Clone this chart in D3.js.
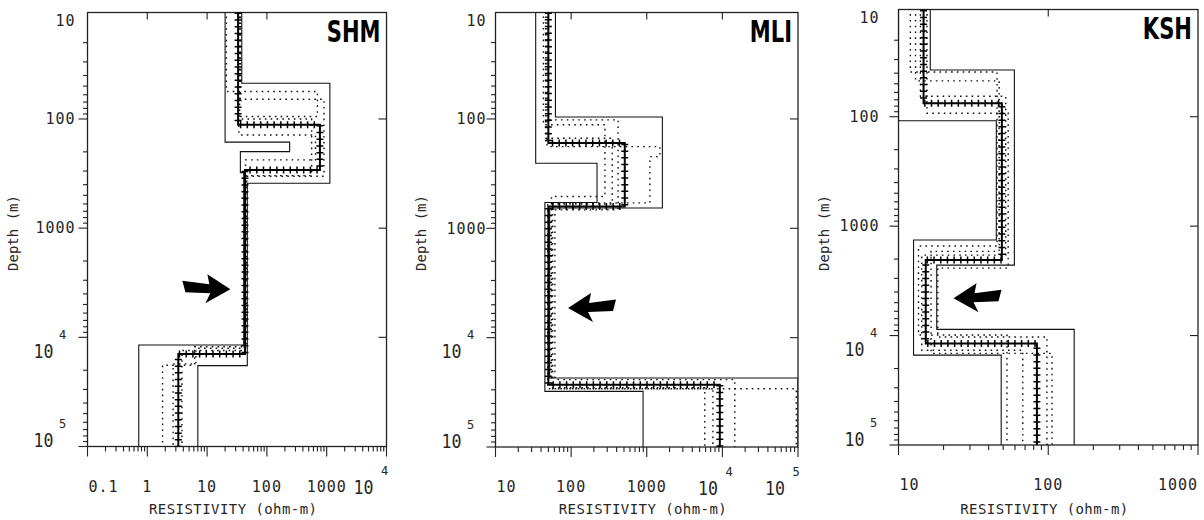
<!DOCTYPE html>
<html>
<head>
<meta charset="utf-8">
<script src="https://cdn.jsdelivr.net/npm/d3@7/dist/d3.min.js"></script>
<style>
  body { margin: 0; background: #fff; }
  svg text { fill: #262626; }
  .lbl { font-family: "DejaVu Sans Mono", monospace; font-size: 15px; letter-spacing: 1px; }
  .big { font-family: "DejaVu Sans Mono", monospace; font-size: 19px; }
  .sup { font-family: "DejaVu Sans Mono", monospace; font-size: 12px; }
  .axt { font-family: "DejaVu Sans Mono", monospace; font-size: 14px; }
  .ttl { font-family: "DejaVu Sans", sans-serif; font-size: 31px; font-weight: bold; fill: #000; }
</style>
</head>
<body>
<div id="chart"></div>
<script>
var W = 1204, H = 520;

var stations = ["SHM", "MLI", "KSH"];

// tick values
var shmResTicks = [0.1, 1, 10, 100, 1000, 10000];
var mliResTicks = [10, 100, 1000, 10000, 100000];
var kshResTicks = [10, 100, 1000];
var depthTicks = [10, 100, 1000, 10000, 100000];

// layered models: resistivity of each layer (ohm-m), depth of each boundary (m)
// SHM
var shmLowRes = [20, 240, 36, 41, 0.72];
var shmLowDepth = [163, 199, 310, 11750];
var shmHighRes = [38, 1130, 47, 7.0];
var shmHighDepth = [47, 388, 18150];
var shmBestRes = [33, 770, 43, 3.3];
var shmBestDepth = [113, 293, 14200];
var shmDot1Res = [21, 700, 34, 650, 44, 6.2, 1.8];
var shmDot1Depth = [56, 95, 140, 237, 12200, 18000];
var shmDot2Res = [36, 900, 46, 6.5, 2.7];
var shmDot2Depth = [66, 335, 12600, 17500];
var shmDot3Res = [35, 560, 42, 3.8];
var shmDot3Depth = [100, 330, 13200];

// MLI
var mliLowRes = [34, 220, 45, 894];
var mliLowDepth = [254, 581, 31000];
var mliHighRes = [62, 1610, 52, 100000];
var mliHighDepth = [96, 653, 23400];
var mliBestRes = [50, 512, 50, 9250];
var mliBestDepth = [166, 632, 27000];
var mliDot1Res = [43, 280, 55, 5850];
var mliDot1Depth = [113, 512, 28700];
var mliDot2Res = [50, 418, 61, 14600];
var mliDot2Depth = [102, 678, 24200];
var mliDot3Res = [48, 1490, 1100, 57, 7500];
var mliDot3Depth = [179, 221, 585, 29300];
var mliDot4Res = [46, 350, 49, 95000];
var mliDot4Depth = [150, 600, 29300];

// KSH
var kshLowRes = [10, 45, 12.6, 48.5];
var kshLowDepth = [109, 1340, 15100];
var kshHighRes = [16.3, 59.4, 18, 149];
var kshHighDepth = [37.4, 2270, 8770];
var kshBestRes = [14.7, 49, 15.2, 84];
var kshBestDepth = [75.5, 2040, 11800];
var kshDot1Res = [12, 45.5, 13.6, 53];
var kshDot1Depth = [39, 1520, 9890];
var kshDot2Res = [15.5, 54, 18.3, 98];
var kshDot2Depth = [93, 2420, 10300];
var kshDot3Res = [14, 52, 14.3, 67.6];
var kshDot3Depth = [65, 1840, 13600];
var kshDot4Res = [13, 47, 16.5, 106];
var kshDot4Depth = [47, 1700, 14550];

// arrow tips: resistivity, depth, direction (1 = points right)
var shmArrow = [24.5, 3630, 1];
var mliArrow = [91, 5370, -1];
var kshArrow = [23.3, 4570, -1];

// panel frames
var layout = [
  {left: 87.5, right: 386.5, top: 12.5, bottom: 446.5, y10: 9.8, gap: 12},
  {left: 495.5, right: 798, top: 12.5, bottom: 447, y10: 9.6, gap: 9},
  {left: 898.5, right: 1198, top: 9.5, bottom: 445, y10: 7.3, gap: 19}
];

var panels = [
  {name: stations[0], ticks: shmResTicks, arrow: shmArrow, box: layout[0], models: [
    [shmDot1Res, shmDot1Depth, "dot"], [shmDot2Res, shmDot2Depth, "dot"], [shmDot3Res, shmDot3Depth, "dot"],
    [shmLowRes, shmLowDepth, "solid"], [shmHighRes, shmHighDepth, "solid"], [shmBestRes, shmBestDepth, "best"]]},
  {name: stations[1], ticks: mliResTicks, arrow: mliArrow, box: layout[1], models: [
    [mliDot1Res, mliDot1Depth, "dot"], [mliDot2Res, mliDot2Depth, "dot"], [mliDot3Res, mliDot3Depth, "dot"],
    [mliDot4Res, mliDot4Depth, "dot"],
    [mliLowRes, mliLowDepth, "solid"], [mliHighRes, mliHighDepth, "solid"], [mliBestRes, mliBestDepth, "best"]]},
  {name: stations[2], ticks: kshResTicks, arrow: kshArrow, box: layout[2], models: [
    [kshDot1Res, kshDot1Depth, "dot"], [kshDot2Res, kshDot2Depth, "dot"], [kshDot3Res, kshDot3Depth, "dot"],
    [kshDot4Res, kshDot4Depth, "dot"],
    [kshLowRes, kshLowDepth, "solid"], [kshHighRes, kshHighDepth, "solid"], [kshBestRes, kshBestDepth, "best"]]}
];

// left-pointing arrow outline, px relative to the tip
var arrowShape = [[0, 0], [23, -15], [21, -5], [48, -8.5], [45, 3], [20, 4], [25, 14]];

var svg = d3.select("#chart").append("svg")
    .attr("width", W)
    .attr("height", H);

function minors(lo, hi) {
  var out = [];
  for (var n = Math.floor(Math.log10(lo)); n <= Math.ceil(Math.log10(hi)); n++) {
    for (var k = 2; k <= 9; k++) {
      var v = k * Math.pow(10, n);
      if (v > lo && v < hi) out.push(v);
    }
  }
  return out;
}

function steps(res, depth) {
  var pts = [[res[0], 8]];
  depth.forEach(function(d, i) {
    pts.push([res[i], d]);
    pts.push([res[i + 1], d]);
  });
  pts.push([res[res.length - 1], 130000]);
  return pts;
}

panels.forEach(function(p, pi) {
  var b = p.box;
  var x = d3.scaleLog().domain([p.ticks[0], p.ticks[p.ticks.length - 1]]).range([b.left, b.right]);
  var y = d3.scaleLog().domain([10, 100000]).range([b.y10, b.bottom]);
  var g = svg.append("g");

  g.append("clipPath").attr("id", "clip" + pi)
    .append("rect")
      .attr("x", b.left).attr("y", b.top)
      .attr("width", b.right - b.left).attr("height", b.bottom - b.top);

  // frame
  g.append("rect")
      .attr("x", b.left).attr("y", b.top)
      .attr("width", b.right - b.left).attr("height", b.bottom - b.top)
      .attr("fill", "none").attr("stroke", "#222").attr("stroke-width", 1.3);

  var tk = g.append("g").attr("stroke", "#222").attr("stroke-width", 1.1);

  // depth ticks: outward on the left with minors, inward on the right
  depthTicks.forEach(function(v) {
    if (y(v) < b.top) return;
    tk.append("line").attr("x1", b.left - 9).attr("x2", b.left).attr("y1", y(v)).attr("y2", y(v));
    if (v > 10 && v < 100000)
      tk.append("line").attr("x1", b.right - 8).attr("x2", b.right).attr("y1", y(v)).attr("y2", y(v));
  });
  minors(10, 100000).forEach(function(v) {
    if (y(v) < b.top) return;
    tk.append("line").attr("x1", b.left - 4.5).attr("x2", b.left).attr("y1", y(v)).attr("y2", y(v));
  });

  // resistivity ticks: outward at the bottom, inward at the top
  p.ticks.forEach(function(v) {
    tk.append("line").attr("x1", x(v)).attr("x2", x(v)).attr("y1", b.bottom).attr("y2", b.bottom + 10);
    if (v > p.ticks[0] && v < p.ticks[p.ticks.length - 1] && v !== 1000 || (v === 1000 && pi === 1))
      tk.append("line").attr("x1", x(v)).attr("x2", x(v)).attr("y1", b.top).attr("y2", b.top + 7);
  });
  minors(p.ticks[0], p.ticks[p.ticks.length - 1]).forEach(function(v) {
    tk.append("line").attr("x1", x(v)).attr("x2", x(v)).attr("y1", b.bottom).attr("y2", b.bottom + 5);
  });

  // depth labels
  depthTicks.forEach(function(v) {
    if (v < 10000) {
      g.append("text").attr("class", "lbl")
          .attr("x", b.left - b.gap)
          .attr("y", Math.max(y(v), b.top + 8.5))
          .attr("dy", "0.35em")
          .attr("text-anchor", "end")
          .text(String(v));
    } else {
      var cy = Math.min(y(v) + 14, b.bottom - 6);
      g.append("text").attr("class", "big")
          .attr("x", b.left - 34).attr("y", cy).attr("dy", "0.35em")
          .attr("text-anchor", "end")
          .attr("textLength", 20).attr("lengthAdjust", "spacingAndGlyphs")
          .text("10");
      g.append("text").attr("class", "sup")
          .attr("x", b.left - 25).attr("y", cy - 16.5).attr("dy", "0.35em")
          .attr("text-anchor", "middle")
          .text(String(Math.round(Math.log10(v))));
    }
  });

  // resistivity labels
  p.ticks.forEach(function(v) {
    if (v < 10000) {
      var s = v < 1 ? "0.1" : String(v);
      var w = s.length * 10;
      var cx = Math.max(b.left + w / 2 + 1, Math.min(b.right - w / 2, x(v)));
      g.append("text").attr("class", "lbl")
          .attr("x", cx).attr("y", b.bottom + 40).attr("dy", "0.35em")
          .attr("text-anchor", "middle")
          .text(s);
    } else {
      var sx = Math.min(x(v) + 6.7, b.right - 2);
      g.append("text").attr("class", "big")
          .attr("x", sx - 11).attr("y", b.bottom + 41).attr("dy", "0.35em")
          .attr("text-anchor", "end")
          .attr("textLength", 20).attr("lengthAdjust", "spacingAndGlyphs")
          .text("10");
      g.append("text").attr("class", "sup")
          .attr("x", sx).attr("y", b.bottom + 24.5).attr("dy", "0.35em")
          .attr("text-anchor", "middle")
          .text(String(Math.round(Math.log10(v))));
    }
  });

  // axis titles
  var mid = (b.left + b.right) / 2;
  g.append("text").attr("class", "axt")
      .attr("x", mid - 4).attr("y", 514)
      .attr("text-anchor", "middle")
      .attr("textLength", 168).attr("lengthAdjust", "spacing")
      .text("RESISTIVITY (ohm-m)");
  g.append("text").attr("class", "axt")
      .attr("transform", "translate(" + (b.left - 74.5) + ",233) rotate(-90)")
      .attr("dy", "0.35em")
      .attr("text-anchor", "middle")
      .text("Depth (m)");

  // station name
  g.append("text").attr("class", "ttl")
      .attr("transform", "translate(" + (b.right - 6) + "," + (b.top + 29) + ") scale(0.68,1)")
      .attr("text-anchor", "end")
      .text(p.name);

  // models
  var line = d3.line()
      .x(function(d) { return x(d[0]); })
      .y(function(d) { return y(d[1]); });
  var curves = g.append("g").attr("clip-path", "url(#clip" + pi + ")").attr("fill", "none");

  p.models.forEach(function(m) {
    var path = line(steps(m[0], m[1]));
    if (m[2] === "dot") {
      curves.append("path").attr("d", path)
          .attr("stroke", "#111").attr("stroke-width", 1.4)
          .attr("stroke-dasharray", "1.6 4.2");
    } else if (m[2] === "solid") {
      curves.append("path").attr("d", path)
          .attr("stroke", "#111").attr("stroke-width", 1.1);
    } else {
      curves.append("path").attr("d", path)
          .attr("stroke", "#000").attr("stroke-width", 2);
      curves.append("path").attr("d", path)
          .attr("stroke", "#000").attr("stroke-width", 7)
          .attr("stroke-dasharray", "1.5 5.2");
    }
  });

  // arrow
  var a = p.arrow;
  var tx = x(a[0]), ty = y(a[1]);
  g.append("polygon")
      .attr("points", arrowShape.map(function(q) {
        return (tx - a[2] * q[0]) + "," + (ty + q[1]);
      }).join(" "))
      .attr("fill", "#000");
});
</script>
</body>
</html>
